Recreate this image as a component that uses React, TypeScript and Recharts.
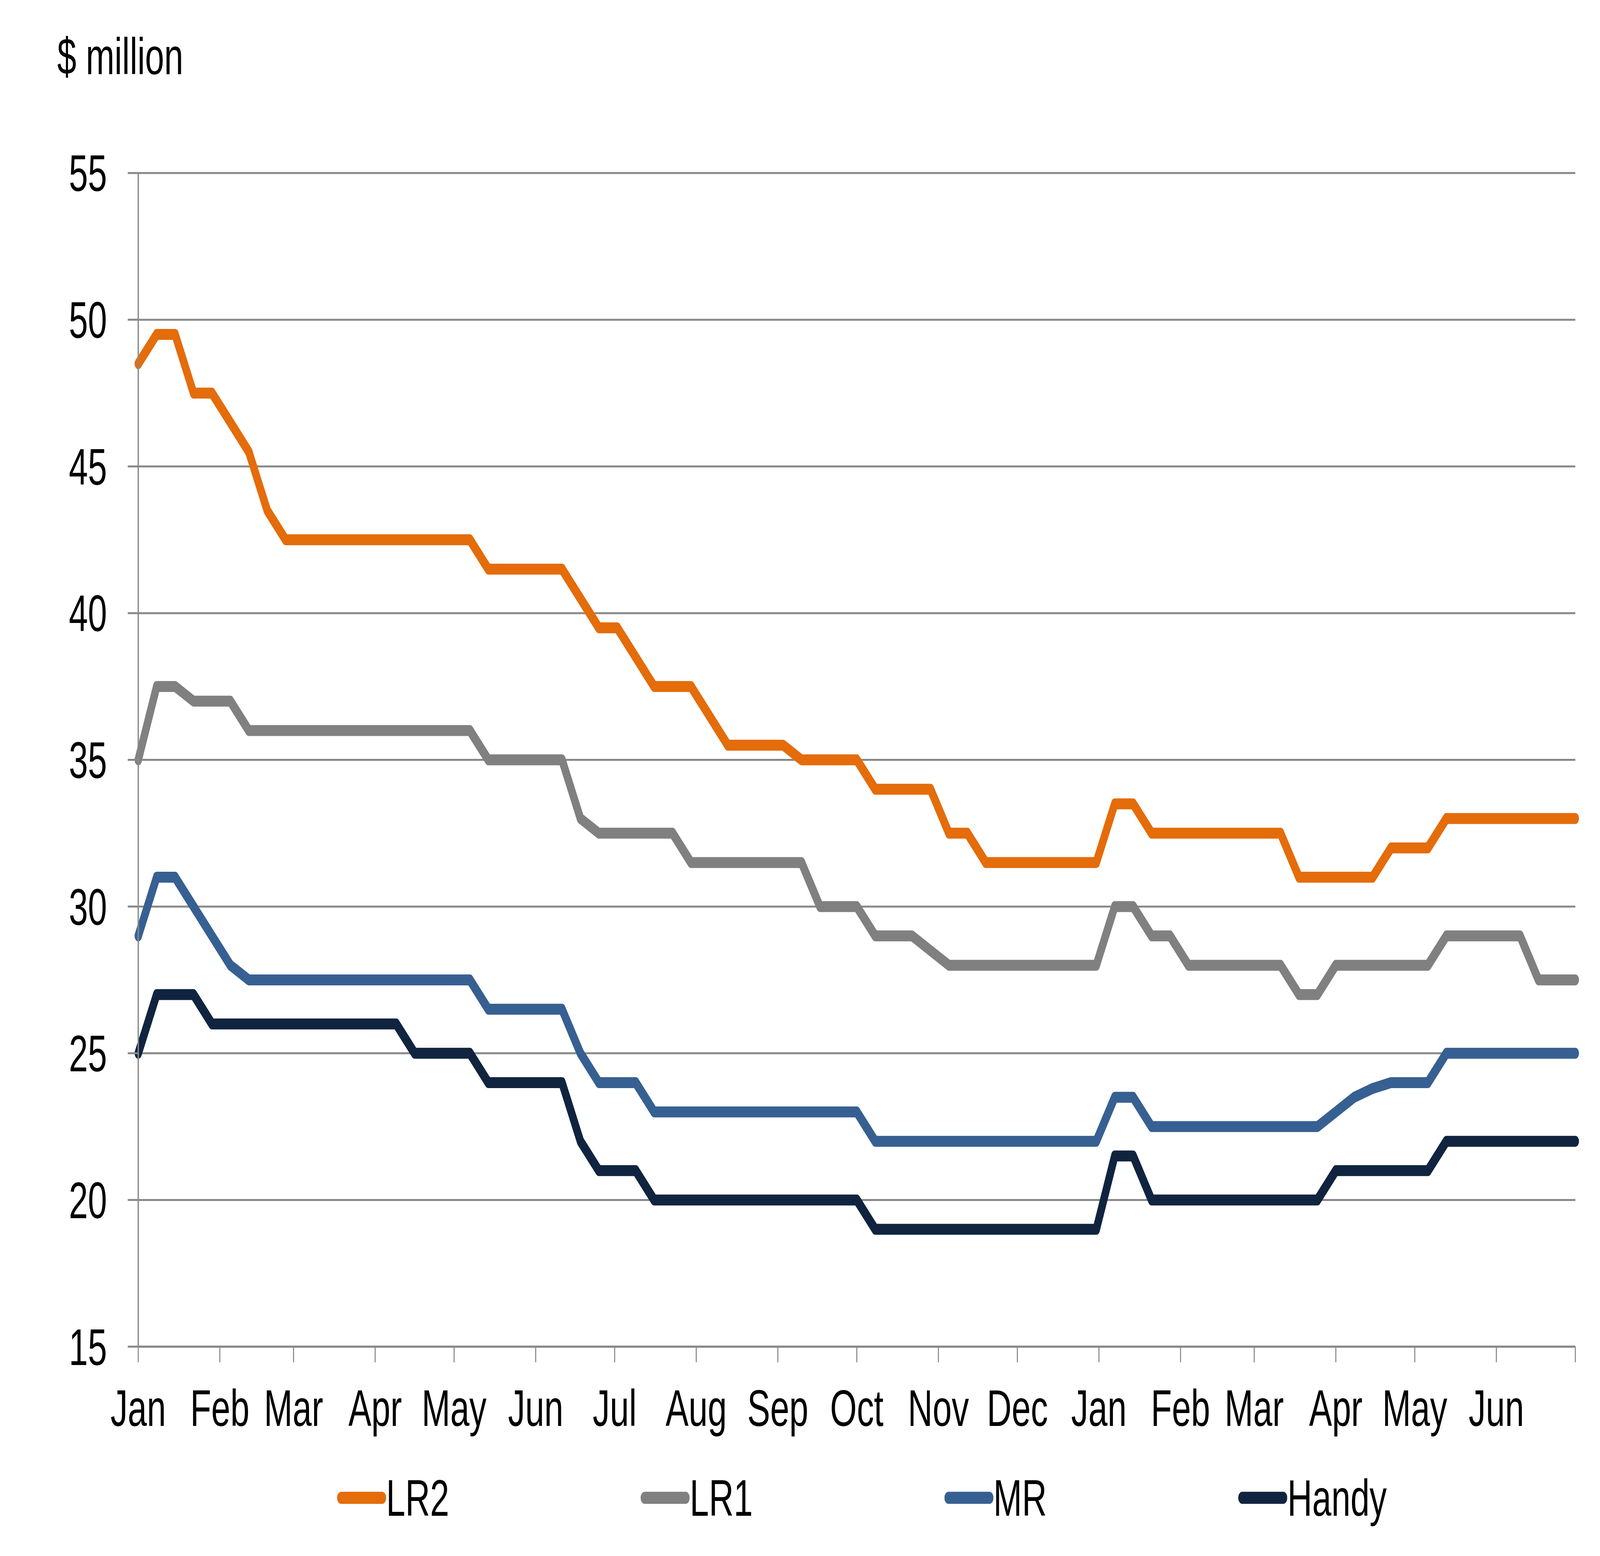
import React from 'react';
import { LineChart, Line, XAxis, YAxis, CartesianGrid, Legend } from 'recharts';

// weekly observations, as day offsets from the first Jan
const weekDay = [
  0, 7, 14, 21, 28, 35, 42, 49, 56, 63, 70, 77, 84, 91, 98, 105, 112, 119, 126, 133,
  140, 147, 154, 161, 168, 175, 182, 189, 196, 203, 210, 217, 224, 231, 238, 245, 252, 259, 266, 273,
  280, 287, 294, 301, 308, 315, 322, 329, 336, 343, 350, 357, 364, 371, 378, 385, 392, 399, 406, 413,
  420, 427, 434, 441, 448, 455, 462, 469, 476, 483, 490, 497, 504, 511, 518, 525, 532, 539, 546,
];

const lr2 = [
  48.5, 49.5, 49.5, 47.5, 47.5, 46.5, 45.5, 43.5, 42.5, 42.5, 42.5, 42.5, 42.5, 42.5, 42.5, 42.5, 42.5, 42.5, 42.5, 41.5,
  41.5, 41.5, 41.5, 41.5, 40.5, 39.5, 39.5, 38.5, 37.5, 37.5, 37.5, 36.5, 35.5, 35.5, 35.5, 35.5, 35, 35, 35, 35,
  34, 34, 34, 34, 32.5, 32.5, 31.5, 31.5, 31.5, 31.5, 31.5, 31.5, 31.5, 33.5, 33.5, 32.5, 32.5, 32.5, 32.5, 32.5,
  32.5, 32.5, 32.5, 31, 31, 31, 31, 31, 32, 32, 32, 33, 33, 33, 33, 33, 33, 33, 33,
];

const lr1 = [
  35, 37.5, 37.5, 37, 37, 37, 36, 36, 36, 36, 36, 36, 36, 36, 36, 36, 36, 36, 36, 35,
  35, 35, 35, 35, 33, 32.5, 32.5, 32.5, 32.5, 32.5, 31.5, 31.5, 31.5, 31.5, 31.5, 31.5, 31.5, 30, 30, 30,
  29, 29, 29, 28.5, 28, 28, 28, 28, 28, 28, 28, 28, 28, 30, 30, 29, 29, 28, 28, 28,
  28, 28, 28, 27, 27, 28, 28, 28, 28, 28, 28, 29, 29, 29, 29, 29, 27.5, 27.5, 27.5,
];

const mr = [
  29, 31, 31, 30, 29, 28, 27.5, 27.5, 27.5, 27.5, 27.5, 27.5, 27.5, 27.5, 27.5, 27.5, 27.5, 27.5, 27.5, 26.5,
  26.5, 26.5, 26.5, 26.5, 25, 24, 24, 24, 23, 23, 23, 23, 23, 23, 23, 23, 23, 23, 23, 23,
  22, 22, 22, 22, 22, 22, 22, 22, 22, 22, 22, 22, 22, 23.5, 23.5, 22.5, 22.5, 22.5, 22.5, 22.5,
  22.5, 22.5, 22.5, 22.5, 22.5, 23, 23.5, 23.8, 24, 24, 24, 25, 25, 25, 25, 25, 25, 25, 25,
];

const handy = [
  25, 27, 27, 27, 26, 26, 26, 26, 26, 26, 26, 26, 26, 26, 26, 25, 25, 25, 25, 24,
  24, 24, 24, 24, 22, 21, 21, 21, 20, 20, 20, 20, 20, 20, 20, 20, 20, 20, 20, 20,
  19, 19, 19, 19, 19, 19, 19, 19, 19, 19, 19, 19, 19, 21.5, 21.5, 20, 20, 20, 20, 20,
  20, 20, 20, 20, 20, 21, 21, 21, 21, 21, 21, 22, 22, 22, 22, 22, 22, 22, 22,
];

// month starts (days from first Jan); the last one closes the axis
const monthTicks = [0, 31, 59, 90, 120, 151, 181, 212, 243, 273, 304, 334, 365, 396, 424, 455, 485, 516, 546];
const monthLabels = ['Jan', 'Feb', 'Mar', 'Apr', 'May', 'Jun', 'Jul', 'Aug', 'Sep', 'Oct', 'Nov', 'Dec',
  'Jan', 'Feb', 'Mar', 'Apr', 'May', 'Jun', ''];
const yTicks = [15, 20, 25, 30, 35, 40, 45, 50, 55];

const SERIES = [
  { key: 'LR2', color: '#E46C0A' },
  { key: 'LR1', color: '#808080' },
  { key: 'MR', color: '#376092' },
  { key: 'Handy', color: '#10243F' },
];

const data = weekDay.map((day, i) => ({
  day,
  LR2: lr2[i],
  LR1: lr1[i],
  MR: mr[i],
  Handy: handy[i],
}));

const FONT = '"Liberation Sans", Arial, sans-serif';
const GRID = '#888888';
// design frame = the reference picture
const PAGE_W = 6099;
const PAGE_H = 3984;
const W = 6083;
const H = 3968;

const LegendRow = () => (
  <div
    style={{
      display: 'flex',
      alignItems: 'center',
      gap: 730,
      height: 160,
      fontFamily: FONT,
      fontSize: 131,
      lineHeight: 1,
      color: '#000',
    }}
  >
    {SERIES.map((s) => (
      <div key={s.key} style={{ display: 'flex', alignItems: 'center' }}>
        <svg width={187} height={40}>
          <line x1={15.5} y1={20} x2={171.5} y2={20} stroke={s.color} strokeWidth={31} strokeLinecap="round" />
        </svg>
        <span>{s.key}</span>
      </div>
    ))}
  </div>
);

export default function App() {
  // fit the design frame into whatever viewport we actually get
  const vw = window.innerWidth || PAGE_W;
  const vh = window.innerHeight || PAGE_H;
  const sx = vw / PAGE_W;
  const sy = vh / PAGE_H;

  return (
    <div
      style={{
        position: 'fixed',
        left: 0,
        top: 0,
        width: PAGE_W,
        height: PAGE_H,
        background: '#fff',
        transform: `scale(${sx}, ${sy})`,
        transformOrigin: '0 0',
        fontFamily: FONT,
      }}
    >
      <div style={{ position: 'absolute', left: 8, top: 8, width: W, height: H }}>
        <div
          style={{
            position: 'absolute',
            left: 210,
            top: 71,
            fontSize: 131,
            lineHeight: 1,
            whiteSpace: 'nowrap',
            color: '#000',
          }}
        >
          $ million
        </div>
        <LineChart width={W} height={H} data={data} margin={{ top: 435, right: 86, bottom: 328, left: 319 }}>
          <CartesianGrid vertical={false} stroke={GRID} strokeWidth={5} />
          <XAxis
            dataKey="day"
            type="number"
            domain={[0, 546]}
            ticks={monthTicks}
            interval={0}
            height={200}
            tickFormatter={(v: number) => monthLabels[monthTicks.indexOf(v)] ?? ''}
            tick={{ fill: '#000', fontSize: 131, fontFamily: FONT }}
            tickSize={40}
            tickMargin={70}
            axisLine={{ stroke: GRID, strokeWidth: 5 }}
            tickLine={{ stroke: GRID, strokeWidth: 4 }}
          />
          <YAxis
            domain={[15, 55]}
            ticks={yTicks}
            interval={0}
            width={200}
            tick={{ fill: '#000', fontSize: 131, fontFamily: FONT }}
            tickSize={40}
            tickMargin={79}
            axisLine={{ stroke: GRID, strokeWidth: 5 }}
            tickLine={{ stroke: GRID, strokeWidth: 5 }}
          />
          <Legend
            layout="horizontal"
            verticalAlign="middle"
            align="center"
            content={() => <LegendRow />}
            wrapperStyle={{ left: 1277, top: 3747, width: 4600, height: 160 }}
          />
          {SERIES.map((s) => (
            <Line
              key={s.key}
              type="linear"
              dataKey={s.key}
              name={s.key}
              stroke={s.color}
              strokeWidth={28}
              strokeLinejoin="round"
              strokeLinecap="round"
              dot={false}
              activeDot={false}
              isAnimationActive={false}
            />
          ))}
        </LineChart>
      </div>
    </div>
  );
}
